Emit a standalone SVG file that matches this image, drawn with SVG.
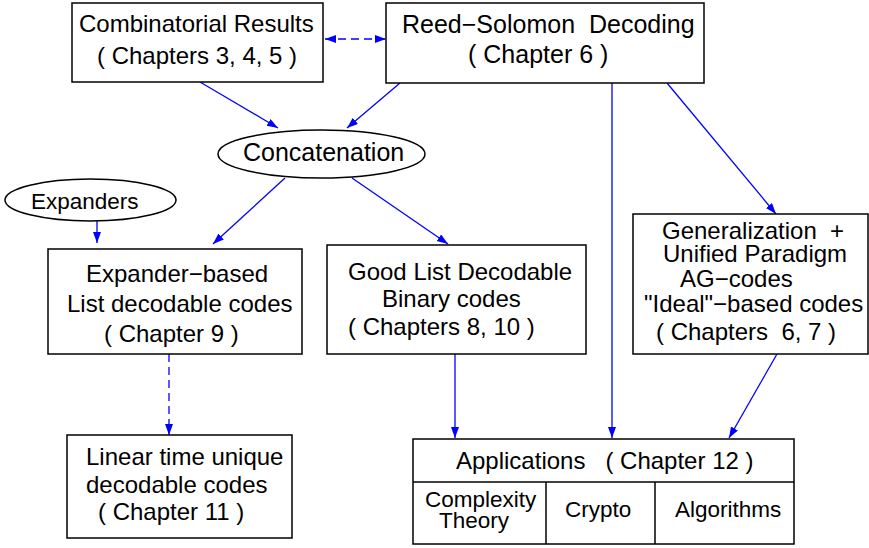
<svg xmlns="http://www.w3.org/2000/svg" width="869" height="548" viewBox="0 0 869 548">
  <style>
    .box { fill: #ffffff; stroke: #000000; stroke-width: 1.5; }
    .t { font-family: "Liberation Sans", Arial, sans-serif; font-size: 24px; fill: #000000; white-space: pre; }
    .big { font-size: 25px; }
    .small { font-size: 22.5px; }
    .edge { stroke: #0000ff; stroke-width: 1.3; fill: none; marker-end: url(#head); }
    .dash { stroke-dasharray: 8 5; }
  </style>
  <defs>
    <marker id="head" markerUnits="userSpaceOnUse" markerWidth="12" markerHeight="10" refX="11" refY="4" orient="auto-start-reverse">
      <path d="M0,0 L11,4 L0,8 z" fill="#0000ff"/>
    </marker>
  </defs>
  <rect x="0" y="0" width="869" height="548" fill="#ffffff"/>

  <g id="connectors">
    <line class="edge" x1="200" y1="82" x2="278" y2="128"/>
    <line class="edge" x1="400" y1="83" x2="347" y2="128"/>
    <line class="edge" x1="612" y1="83" x2="612" y2="438"/>
    <line class="edge" x1="667" y1="83" x2="776" y2="214"/>
    <line class="edge" x1="285" y1="178" x2="213" y2="244"/>
    <line class="edge" x1="352" y1="178" x2="448" y2="244"/>
    <line class="edge" x1="97" y1="221" x2="97" y2="243"/>
    <line class="edge" x1="455" y1="354" x2="455" y2="438"/>
    <line class="edge" x1="777" y1="354" x2="729" y2="438"/>
    <line class="edge dash" x1="169" y1="354" x2="169" y2="435"/>
    <line class="edge dash" x1="325" y1="39" x2="386" y2="39" marker-start="url(#head)"/>
  </g>

  <g id="combinatorial">
    <rect class="box" x="72" y="3" width="251" height="79"/>
    <text class="t" x="79" y="32">Combinatorial Results</text>
    <text class="t" x="97" y="64">( Chapters 3, 4, 5 )</text>
  </g>

  <g id="reed-solomon">
    <rect class="box" x="386" y="3" width="318" height="80"/>
    <text class="t big" x="402" y="33">Reed−Solomon  Decoding</text>
    <text class="t big" x="468" y="63">( Chapter 6 )</text>
  </g>

  <g id="concatenation">
    <ellipse class="box" cx="321.5" cy="154" rx="103.5" ry="24"/>
    <text class="t big" x="243" y="161">Concatenation</text>
  </g>

  <g id="expanders">
    <ellipse class="box" cx="90.5" cy="200" rx="85.5" ry="21"/>
    <text class="t small" x="31" y="209">Expanders</text>
  </g>

  <g id="expander-codes">
    <rect class="box" x="48" y="249" width="254" height="105"/>
    <text class="t" x="86" y="282">Expander−based</text>
    <text class="t" x="67" y="312">List decodable codes</text>
    <text class="t" x="104" y="342">( Chapter 9 )</text>
  </g>

  <g id="binary-codes">
    <rect class="box" x="327" y="245" width="259" height="109"/>
    <text class="t" x="348" y="280">Good List Decodable</text>
    <text class="t" x="382" y="307">Binary codes</text>
    <text class="t" x="348" y="335">( Chapters 8, 10 )</text>
  </g>

  <g id="generalization">
    <rect class="box" x="633" y="214" width="235" height="140"/>
    <text class="t" x="662" y="239">Generalization  +</text>
    <text class="t" x="663" y="262">Unified Paradigm</text>
    <text class="t" x="680" y="287">AG−codes</text>
    <text class="t" x="644" y="312">"Ideal"−based codes</text>
    <text class="t" x="656" y="340">( Chapters  6, 7 )</text>
  </g>

  <g id="linear-time">
    <rect class="box" x="67" y="435" width="225" height="103"/>
    <text class="t" x="86" y="465">Linear time unique</text>
    <text class="t" x="86" y="493">decodable codes</text>
    <text class="t" x="98" y="520">( Chapter 11 )</text>
  </g>

  <g id="applications">
    <rect class="box" x="413" y="439" width="381" height="105"/>
    <line stroke="#000" stroke-width="1.5" x1="413" y1="482" x2="794" y2="482"/>
    <line stroke="#000" stroke-width="1.5" x1="546" y1="482" x2="546" y2="544"/>
    <line stroke="#000" stroke-width="1.5" x1="655" y1="482" x2="655" y2="544"/>
    <text class="t" x="456" y="469">Applications   ( Chapter 12 )</text>
    <text class="t small" x="425" y="507">Complexity</text>
    <text class="t small" x="439" y="528">Theory</text>
    <text class="t small" x="565" y="517">Crypto</text>
    <text class="t small" x="675" y="517">Algorithms</text>
  </g>
</svg>
